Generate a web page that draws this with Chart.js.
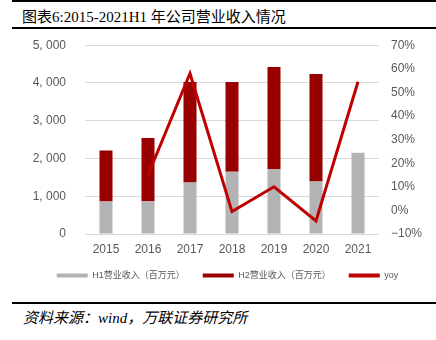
<!DOCTYPE html>
<html>
<head>
<meta charset="utf-8">
<script src="https://cdn.jsdelivr.net/npm/chart.js@4.4.0/dist/chart.umd.min.js"></script>
<style>
  html, body { margin: 0; padding: 0; background: #fff; }
  body { width: 436px; height: 340px; position: relative; overflow: hidden; }
  .rule { position: absolute; left: 12px; right: 0; background: #000; }
  #title { position: absolute; left: 22px; top: 5px; font: 15px "Liberation Serif", "Noto Sans CJK SC", serif; color: #000; white-space: nowrap; }
  #source { position: absolute; left: 23px; top: 306px; font: italic 15px "Liberation Serif", "Noto Sans CJK SC", serif; color: #000; white-space: nowrap; }
  #wrap { position: absolute; left: 0; top: 19px; width: 436px; height: 271px; }
</style>
</head>
<body>
<div class="rule" style="top:0px;height:2px;"></div>
<div id="title">图表6:2015-2021H1 年公司营业收入情况</div>
<div class="rule" style="top:27px;height:2px;"></div>
<div id="wrap"><canvas id="c"></canvas></div>
<div class="rule" style="top:302px;height:2px;"></div>
<div id="source">资料来源：wind，万联证券研究所</div>
<script>
// Years on the category axis
const years = ['2015', '2016', '2017', '2018', '2019', '2020', '2021'];
// First-half revenue (million yuan)
const h1Revenue = [860, 870, 1365, 1650, 1720, 1390, 2155];
// Second-half revenue (million yuan); 2021 has only H1
const h2Revenue = [1350, 1675, 2660, 2375, 2700, 2850, null];
// Year-over-year growth (%), starting 2016
const yoyGrowth = [null, 15, 58, -0.5, 10, -4.5, 54.5];

const tickColor = '#595959';
const gridColor = '#d9d9d9';

new Chart(document.getElementById('c'), {
  type: 'bar',
  data: {
    labels: years,
    datasets: [
      {
        type: 'line',
        label: 'yoy',
        data: yoyGrowth,
        yAxisID: 'y1',
        borderColor: '#c00000',
        backgroundColor: '#c00000',
        borderWidth: 3,
        pointRadius: 0,
        tension: 0,
        order: 0
      },
      {
        label: 'H1营业收入（百万元）',
        data: h1Revenue,
        yAxisID: 'y',
        stack: 's',
        backgroundColor: '#b3b3b3',
        barPercentage: 0.62,
        categoryPercentage: 0.5,
        order: 1
      },
      {
        label: 'H2营业收入（百万元）',
        data: h2Revenue,
        yAxisID: 'y',
        stack: 's',
        backgroundColor: '#990000',
        barPercentage: 0.62,
        categoryPercentage: 0.5,
        order: 1
      }
    ]
  },
  options: {
    responsive: true,
    maintainAspectRatio: false,
    animation: false,
    layout: { padding: { left: 19, right: 0, top: 5, bottom: 0 } },
    plugins: {
      tooltip: { enabled: false },
      legend: {
        position: 'bottom',
        labels: {
          color: tickColor,
          font: { family: '"Liberation Sans", "Noto Sans CJK SC", sans-serif', size: 9 },
          boxWidth: 31,
          boxHeight: 4,
          padding: 18,
          generateLabels(chart) {
            const order = [1, 2, 0];
            return order.map(i => {
              const ds = chart.data.datasets[i];
              return {
                text: ds.label,
                fillStyle: ds.backgroundColor,
                strokeStyle: ds.backgroundColor,
                lineWidth: 0,
                fontColor: tickColor,
                datasetIndex: i,
                hidden: false
              };
            });
          }
        }
      }
    },
    scales: {
      x: {
        stacked: true,
        grid: { display: false, drawTicks: false },
        border: { display: false },
        ticks: { color: tickColor, font: { family: '"Liberation Sans", sans-serif', size: 12 }, padding: 8 },
        afterFit(s) { s.height = 19; }
      },
      y: {
        stacked: true,
        position: 'left',
        min: 0,
        max: 5000,
        ticks: {
          stepSize: 1000,
          color: tickColor,
          padding: 19,
          font: { family: '"Liberation Sans", sans-serif', size: 12 },
          callback: v => v >= 1000 ? Math.floor(v / 1000) + ', ' + String(v % 1000).padStart(3, '0') : String(v)
        },
        grid: { color: gridColor, lineWidth: 1, drawTicks: false },
        border: { display: false },
        afterFit(s) { s.width = 66; }
      },
      y1: {
        position: 'right',
        min: -10,
        max: 70,
        ticks: {
          stepSize: 10,
          color: tickColor,
          padding: 12,
          font: { family: '"Liberation Sans", sans-serif', size: 12 },
          callback: v => (v < 0 ? '\u2212' + Math.abs(v) : v) + '%'
        },
        grid: { display: false, drawTicks: false },
        border: { display: false },
        afterFit(s) { s.width = 57; }
      }
    }
  }
});
</script>
</body>
</html>
